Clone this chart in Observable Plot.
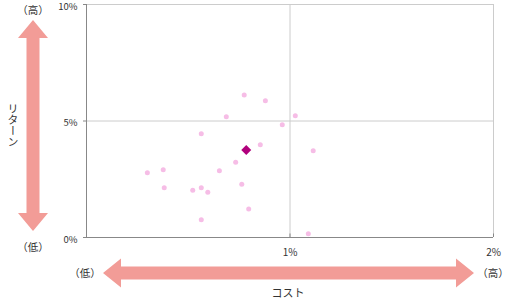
<!DOCTYPE html>
<html><head><meta charset="utf-8">
<script src="https://cdn.jsdelivr.net/npm/d3@7"></script>
<script src="https://cdn.jsdelivr.net/npm/@observablehq/plot@0.6"></script>
<style>
body{margin:0;background:#fff}
#chart{width:512px;height:300px}
</style>
</head><body><div id="chart"></div>
<script>
// Fund cost (%) and return (%)
const cost = [0.687, 1.026, 0.962, 0.564, 0.854, 1.114, 0.733, 0.299, 0.377, 0.653, 0.382, 0.522, 0.564, 0.596, 0.763, 0.797, 0.564, 1.090, 0.775, 0.879];
const ret  = [5.18, 5.22, 4.84, 4.45, 3.98, 3.72, 3.23, 2.78, 2.91, 2.86, 2.13, 2.03, 2.13, 1.94, 2.29, 1.22, 0.76, 0.16, 6.12, 5.87];
// Average point
const avgCost = [0.785];
const avgReturn = [3.76];
// Ticks
const xTicks = [1, 2];
const yTicks = [0, 5, 10];
const xDomain = [0, 2];
const yDomain = [0, 10];
// Annotation labels
const yAxisTitle = "リターン";
const xAxisTitle = "コスト";
const highLabel = "（高）";
const lowLabel = "（低）";

const funds = cost.map((c, i) => ({cost: c, ret: ret[i]}));
const avg = avgCost.map((c, i) => ({cost: c, ret: avgReturn[i]}));

const font = "'Noto Sans CJK JP', 'Noto Sans', sans-serif";
const chart = Plot.plot({
  width: 512, height: 300,
  marginLeft: 86, marginRight: 19, marginTop: 4, marginBottom: 63,
  style: {fontFamily: font, fontSize: "10px", color: "#333", background: "#fff"},
  x: {domain: xDomain},
  y: {domain: yDomain},
  marks: [
    Plot.ruleY([5], {stroke: "#ccc"}),
    Plot.ruleX([1], {stroke: "#ccc"}),
    Plot.ruleY([yDomain[1]], {stroke: "#ccc"}),
    Plot.ruleX([xDomain[1]], {stroke: "#ccc"}),
    Plot.ruleY([0], {stroke: "#888"}),
    Plot.ruleX([0], {stroke: "#888"}),
    Plot.ruleX(xTicks, {y1: 0, y2: 0.15, stroke: "#888"}),
    Plot.axisY({ticks: yTicks, tickFormat: () => "", tickSize: 3, stroke: "#888", strokeOpacity: 1, label: null}),
    Plot.axisY({ticks: yTicks, tickFormat: d => d + "%", tickSize: 0, tickPadding: 9, label: null, dy: 2, fontSize: 9.5}),
    Plot.axisX({ticks: xTicks, tickFormat: d => d + "%", tickSize: 0, tickPadding: 11, label: null}),
    Plot.dot(funds, {x: "cost", y: "ret", r: 2.5, fill: "#f6bde6"}),
    Plot.dot(avg, {x: "cost", y: "ret", symbol: "diamond2", r: 4.5, fill: "#b0007c"})
  ]
});
document.getElementById("chart").appendChild(chart);

// Decorative arrows and labels
const svg = d3.select(chart);
const arrowColor = "#f29c97";
const g = svg.append("g");
function vArrow(cx, top, bottom, hw, sw, hl) {
  const p = [[cx, top], [cx + hw, top + hl], [cx + sw, top + hl], [cx + sw, bottom - hl], [cx + hw, bottom - hl],
    [cx, bottom], [cx - hw, bottom - hl], [cx - sw, bottom - hl], [cx - sw, top + hl], [cx - hw, top + hl]];
  g.append("polygon").attr("points", p.map(d => d.join(",")).join(" ")).attr("fill", arrowColor);
}
function hArrow(cy, left, right, hw, sw, hl) {
  const p = [[left, cy], [left + hl, cy - hw], [left + hl, cy - sw], [right - hl, cy - sw], [right - hl, cy - hw],
    [right, cy], [right - hl, cy + hw], [right - hl, cy + sw], [left + hl, cy + sw], [left + hl, cy + hw]];
  g.append("polygon").attr("points", p.map(d => d.join(",")).join(" ")).attr("fill", arrowColor);
}
vArrow(33, 20, 231, 15, 6.5, 18);
hArrow(273, 103, 474, 14.5, 6.5, 18);

function label(txt, x, y, opts = {}) {
  const t = g.append("text").attr("x", x).attr("y", y).attr("text-anchor", "middle")
    .attr("dominant-baseline", "central").attr("fill", "#333")
    .style("font-family", font).style("font-size", opts.size || "10.5px").text(txt);
  if (opts.vertical) t.style("writing-mode", "vertical-rl").style("text-orientation", "upright");
  return t;
}
label(highLabel, 33, 9);
label(lowLabel, 33, 246);
label(lowLabel, 85, 272);
label(highLabel, 493, 272);
label(xAxisTitle, 288, 292, {size: "11px"});
label(yAxisTitle, 13, 125, {vertical: true, size: "11px"});
</script>
</body></html>
